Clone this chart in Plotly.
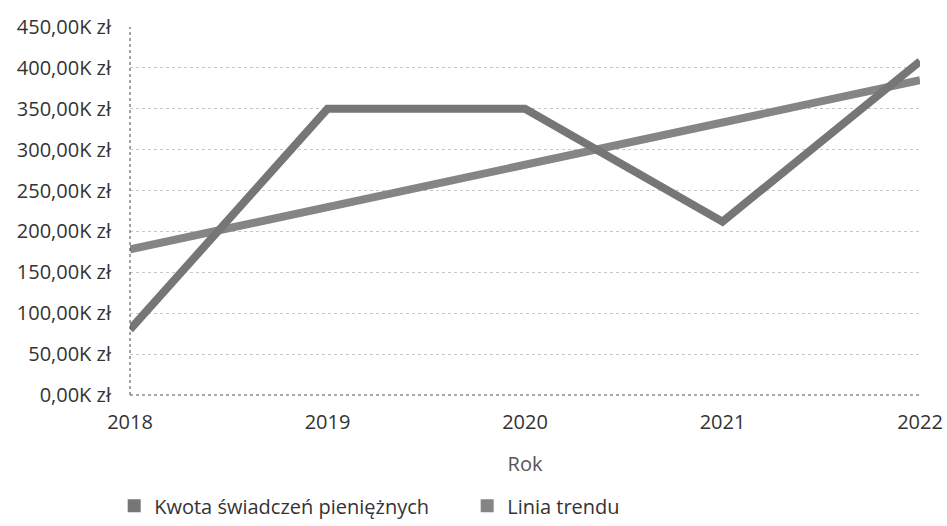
import plotly.graph_objects as go

years = [2018, 2019, 2020, 2021, 2022]
kwota = [80000, 350000, 350000, 212000, 408000]
trend_years = [2018, 2022]
trend = [178000, 385000]

y_tickvals = [0, 50000, 100000, 150000, 200000, 250000, 300000, 350000, 400000, 450000]
y_ticktext = ["0,00K zł", "50,00K zł", "100,00K zł", "150,00K zł", "200,00K zł",
              "250,00K zł", "300,00K zł", "350,00K zł", "400,00K zł", "450,00K zł"]

c_data = "#767676"
c_trend = "#858585"
font = "Open Sans, Noto Sans, sans-serif"

fig = go.Figure()
fig.add_trace(go.Scatter(x=trend_years, y=trend, mode="lines",
                         line=dict(color=c_trend, width=8), showlegend=False, hoverinfo="skip"))
fig.add_trace(go.Scatter(x=years, y=kwota, mode="lines",
                         line=dict(color=c_data, width=8), showlegend=False))
fig.add_trace(go.Scatter(x=[None], y=[None], mode="markers", name="Kwota świadczeń pieniężnych",
                         marker=dict(symbol="square", size=13, color=c_data)))
fig.add_trace(go.Scatter(x=[None], y=[None], mode="markers", name="Linia trendu",
                         marker=dict(symbol="square", size=13, color=c_trend)))

fig.update_layout(
    width=947, height=526,
    margin=dict(l=130, r=27, t=27, b=131, autoexpand=False),
    paper_bgcolor="white", plot_bgcolor="white",
    font=dict(family=font, color="#333333", size=20),
    xaxis=dict(range=[2018, 2022], tickvals=years, ticktext=[str(y) for y in years],
               showgrid=False, zeroline=False, showline=False, automargin=False,
               tickfont=dict(size=20, color="#333333"), ticklabelstandoff=13,
               title=dict(text="Rok", font=dict(size=20, color="#555555"), standoff=22)),
    yaxis=dict(range=[0, 450000], tickvals=y_tickvals, ticktext=y_ticktext,
               showgrid=True, gridcolor="#c8c8c8", griddash="dot", gridwidth=1,
               zeroline=False, showline=False, automargin=False,
               tickfont=dict(size=20, color="#333333"), ticklabelstandoff=18),
    legend=dict(orientation="h", x=-0.02, xanchor="left", y=-0.248, yanchor="top",
                font=dict(size=20, color="#333333"), itemwidth=30,
                entrywidth=308, entrywidthmode="pixels"),
    shapes=[
        dict(type="line", xref="paper", yref="paper", x0=0, x1=0, y0=0, y1=1,
             line=dict(color="#444444", width=1, dash="dot")),
        dict(type="line", xref="paper", yref="paper", x0=0, x1=1, y0=0, y1=0,
             line=dict(color="#555555", width=1, dash="dot")),
    ],
)

fig.write_html("out.html", config={"displayModeBar": False},
               post_script="document.body.style.margin='0';document.body.style.overflow='hidden';")
